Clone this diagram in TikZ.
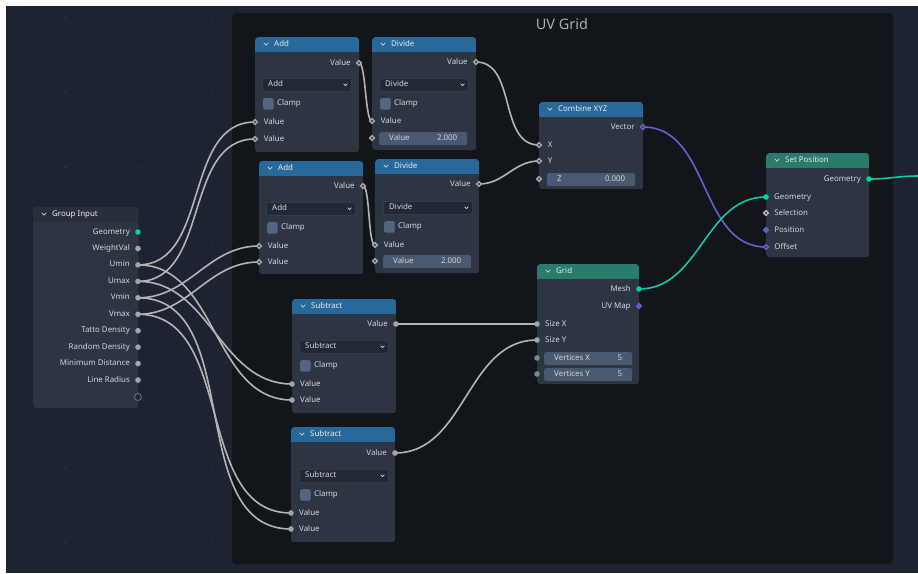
\documentclass[tikz,border=0pt]{standalone}
\usepackage{fontspec}
\setmainfont{Noto Sans}
\usetikzlibrary{positioning,shapes.geometric}

\definecolor{canvas}{HTML}{1E2331}
\definecolor{griddot}{HTML}{272D3B}
\definecolor{griddotbig}{HTML}{303747}
\definecolor{framebg}{HTML}{121519}
\definecolor{titletxt}{HTML}{A9AEB4}
\definecolor{nodebg}{HTML}{2E3542}
\definecolor{headgray}{HTML}{292F3A}
\definecolor{headblue}{HTML}{29689A}
\definecolor{headgreen}{HTML}{287C68}
\definecolor{menubg}{HTML}{232934}
\definecolor{menuline}{HTML}{3A4250}
\definecolor{fieldbg}{HTML}{4A5870}
\definecolor{checkbg}{HTML}{56657F}
\definecolor{txt}{HTML}{D4D6D8}
\definecolor{sockgray}{HTML}{A5A5A5}
\definecolor{sockgeo}{HTML}{00D6A3}
\definecolor{sockvec}{HTML}{6363C7}
\definecolor{sockint}{HTML}{5F9E64}
\definecolor{socksel}{HTML}{CBA5D6}
\definecolor{wiregray}{HTML}{B4B4B4}
\definecolor{wiregeo}{HTML}{16C89B}
\definecolor{wirevec}{HTML}{6A5ED0}

\pgfdeclarelayer{back}
\pgfdeclarelayer{wires}
\pgfsetlayers{back,wires,main}

\begin{document}
\begin{tikzpicture}[x=1pt, y=-1pt, font=\fontsize{7.9}{9}\selectfont,
  nodebody/.style={fill=nodebg, rounded corners=3pt, inner sep=0pt, anchor=north west,
    path picture={\fill[#1, sharp corners] (path picture bounding box.north west)
      rectangle ([yshift=-14.5pt]path picture bounding box.north east);}},
  lbl/.style={text=txt, inner sep=0pt, text height=5.4pt, text depth=1.4pt},
  htxt/.style={lbl, text=white!90!nodebg},
  menu/.style={fill=menubg, draw=menuline, line width=.5pt, rounded corners=2pt,
    minimum width=89pt, minimum height=13pt, inner sep=0pt, anchor=north west},
  field/.style={fill=fieldbg, rounded corners=2pt, minimum width=88pt,
    minimum height=13pt, inner sep=0pt, anchor=north west},
  check/.style={fill=checkbg, rounded corners=1.5pt, minimum width=10.5pt,
    minimum height=11.5pt, inner sep=0pt, anchor=north west},
  sock/.style={circle, fill=sockgray, inner sep=0pt, minimum size=5.6pt},
  geosock/.style={sock, fill=sockgeo},
  intsock/.style={sock, fill=sockint},
  fsock/.style={diamond, fill=sockgray, inner sep=0pt, minimum size=7pt,
    path picture={\fill[nodebg] (path picture bounding box.center) circle (1.1pt);}},
  vsock/.style={fsock, fill=sockvec},
  selsock/.style={fsock, fill=socksel},
  vfull/.style={diamond, fill=sockvec, inner sep=0pt, minimum size=7pt},
  wire/.style={draw=wiregray, line width=1.6pt},
  chev/.pic={\draw[txt, line width=.7pt, line cap=round] (-2.2,-1.1) -- (0,1.1) -- (2.2,-1.1);}]

\useasboundingbox (0,0) rectangle (918,573);

% editor background, dot grid and the frame
\begin{pgfonlayer}{back}
  \fill[white] (0,0) rectangle (918,573);
  \fill[canvas] (6,6) rectangle (918,573);
  \begin{scope}
    \clip (6,6) rectangle (918,573);
    \foreach \i in {0,...,62} \foreach \j in {0,...,38}
      \fill[griddot] (6+14.75*\i,2.3+15*\j) circle (.6pt);
    \foreach \i in {0,...,12} \foreach \j in {0,...,7}
      \fill[griddotbig] (65+73.75*\i,17.3+75*\j) circle (.9pt);
  \end{scope}
  \fill[framebg, rounded corners=4pt] (232,13) rectangle (893,564);
  \node[text=titletxt, font=\fontsize{14.5}{17}\selectfont] (title) at (562,24) {UV Grid};
\end{pgfonlayer}

% node bodies with their headers
\foreach \n/\ttl/\col/\x/\y/\w/\h in {gi/Group Input/headgray/33/207/105/201,
    add1/Add/headblue/255/37/104/115,
    div1/Divide/headblue/372/37/104/113,
    add2/Add/headblue/259/161/104/113,
    div2/Divide/headblue/375/159/104/114,
    sub1/Subtract/headblue/292/299/104/114,
    sub2/Subtract/headblue/291/427/104/115,
    comb/Combine XYZ/headblue/539/102/104/87,
    grid/Grid/headgreen/537/264/102/120,
    setpos/Set Position/headgreen/766/153/103/104}
{
  \node[nodebody=\col, minimum width=\w, minimum height=\h] (\n) at (\x,\y) {};
  \pic at ([xshift=11pt,yshift=-7pt]\n.north west) {chev};
  \node[htxt, anchor=west] at ([xshift=19pt,yshift=-7pt]\n.north west) {\ttl};
}

% operation menus and clamp boxes
\foreach \n/\op/\x/\y in {add1/Add/262/78, div1/Divide/379/78, add2/Add/266/202,
    div2/Divide/383/201, sub1/Subtract/299/340, sub2/Subtract/299/469}
{
  \node[menu] (\n-op) at (\x,\y) {};
  \node[lbl, anchor=west] at ([xshift=6pt]\n-op.west) {\op};
  \pic[scale=.8] at ([xshift=-6pt]\n-op.east) {chev};
  \node[check] (\n-clamp) at (\x+1,\y+20) {};
  \node[lbl, right=3pt of \n-clamp] {Clamp};
}

% value fields
\foreach \n/\a/\b/\x/\y in {div1/Value/2.000/379/132, div2/Value/2.000/383/255,
    comb/Z/0.000/547/173, grid-x/Vertices X/5/544/352, grid-y/Vertices Y/5/544/368}
{
  \node[field] (\n-fld) at (\x,\y) {};
  \node[lbl, anchor=west] at ([xshift=10pt]\n-fld.west) {\a};
  \node[lbl, anchor=east] at ([xshift=-10pt]\n-fld.east) {\b};
}

% group input sockets
\node[geosock] (gi-geo) at (138,232) {};
\node[lbl, left=5pt of gi-geo] {Geometry};
\foreach \n/\s [count=\k] in {weight/WeightVal, umin/Umin, umax/Umax, vmin/Vmin, vmax/Vmax,
    tatto/Tatto Density, random/Random Density, mindist/Minimum Distance, radius/Line Radius}
{
  \node[sock] (gi-\n) at (138,232+16.45*\k) {};
  \node[lbl, left=5pt of gi-\n] {\s};
}
\node[sock, fill=canvas, draw=sockgray!70!black, line width=.8pt, minimum size=7pt] (gi-extra) at (138,397) {};

% add / divide sockets
\foreach \n/\x/\y in {add1/359/63, div1/476/62, add2/363/186, div2/479/184}
{
  \node[fsock] (\n-out) at (\x,\y) {};
  \node[lbl, left=4.5pt of \n-out] {Value};
}
\foreach \n/\x/\y in {add1-a/255/122, add1-b/255/139, div1-a/372/121,
    add2-a/259/246, add2-b/259/262, div2-a/375/245}
{
  \node[fsock] (\n) at (\x,\y) {};
  \node[lbl, right=5pt of \n] {Value};
}
\node[fsock] (div1-b) at (372,138) {};
\node[fsock] (div2-b) at (375,261) {};

% subtract sockets
\foreach \n/\x/\y in {sub1/396/324, sub2/395/453}
{
  \node[sock] (\n-out) at (\x,\y) {};
  \node[lbl, left=5pt of \n-out] {Value};
  \node[sock] (\n-a) at (\x-104,\y+60) {};
  \node[lbl, right=5pt of \n-a] {Value};
  \node[sock] (\n-b) at (\x-104,\y+76) {};
  \node[lbl, right=5pt of \n-b] {Value};
}

% combine xyz
\node[vsock] (comb-out) at (643,127) {};
\node[lbl, left=4.5pt of comb-out] {Vector};
\node[fsock] (comb-x) at (539,145) {};
\node[lbl, right=5pt of comb-x] {X};
\node[fsock] (comb-y) at (539,161) {};
\node[lbl, right=5pt of comb-y] {Y};
\node[fsock] (comb-z) at (539,179) {};

% grid
\node[geosock] (grid-mesh) at (639,289) {};
\node[lbl, left=5pt of grid-mesh] {Mesh};
\node[vfull] (grid-uv) at (639,306) {};
\node[lbl, left=4.5pt of grid-uv] {UV Map};
\node[sock] (grid-sx) at (537,324) {};
\node[lbl, right=5pt of grid-sx] {Size X};
\node[sock] (grid-sy) at (537,340) {};
\node[lbl, right=5pt of grid-sy] {Size Y};
\node[intsock] (grid-vx) at (537,358) {};
\node[intsock] (grid-vy) at (537,374) {};

% set position
\node[geosock] (setpos-out) at (869,179) {};
\node[lbl, left=5pt of setpos-out] {Geometry};
\node[geosock] (setpos-geo) at (766,197) {};
\node[lbl, right=5pt of setpos-geo] {Geometry};
\node[selsock] (setpos-sel) at (766,213) {};
\node[lbl, right=4.5pt of setpos-sel] {Selection};
\node[vfull] (setpos-pos) at (766,230) {};
\node[lbl, right=4.5pt of setpos-pos] {Position};
\node[vsock] (setpos-off) at (766,247) {};
\node[lbl, right=4.5pt of setpos-off] {Offset};
\coordinate (group-out) at (918,176);

% links
\begin{pgfonlayer}{wires}
  \draw[wire] (gi-umin.center) to[out=0,in=180] (add1-a.center);
  \draw[wire] (gi-umax.center) to[out=0,in=180] (add1-b.center);
  \draw[wire] (gi-vmin.center) to[out=0,in=180] (add2-a.center);
  \draw[wire] (gi-vmax.center) to[out=0,in=180] (add2-b.center);
  \draw[wire] (gi-umax.center) to[out=0,in=180] (sub1-a.center);
  \draw[wire] (gi-umin.center) to[out=0,in=180] (sub1-b.center);
  \draw[wire] (gi-vmax.center) to[out=0,in=180] (sub2-a.center);
  \draw[wire] (gi-vmin.center) to[out=0,in=180] (sub2-b.center);
  \draw[wire] (add1-out.center) to[out=0,in=180,looseness=.3] (div1-a.center);
  \draw[wire] (add2-out.center) to[out=0,in=180,looseness=.3] (div2-a.center);
  \draw[wire] (div1-out.center) to[out=0,in=180] (comb-x.center);
  \draw[wire] (div2-out.center) to[out=0,in=180] (comb-y.center);
  \draw[wire] (sub1-out.center) -- (grid-sx.center);
  \draw[wire] (sub2-out.center) to[out=0,in=180] (grid-sy.center);
  \draw[wire, draw=wirevec] (comb-out.center) to[out=0,in=180] (setpos-off.center);
  \draw[wire, draw=wiregeo] (grid-mesh.center) to[out=0,in=180] (setpos-geo.center);
  \draw[wire, draw=wiregeo] (setpos-out.center) to[out=0,in=180] (group-out);
\end{pgfonlayer}
\end{tikzpicture}
\end{document}
